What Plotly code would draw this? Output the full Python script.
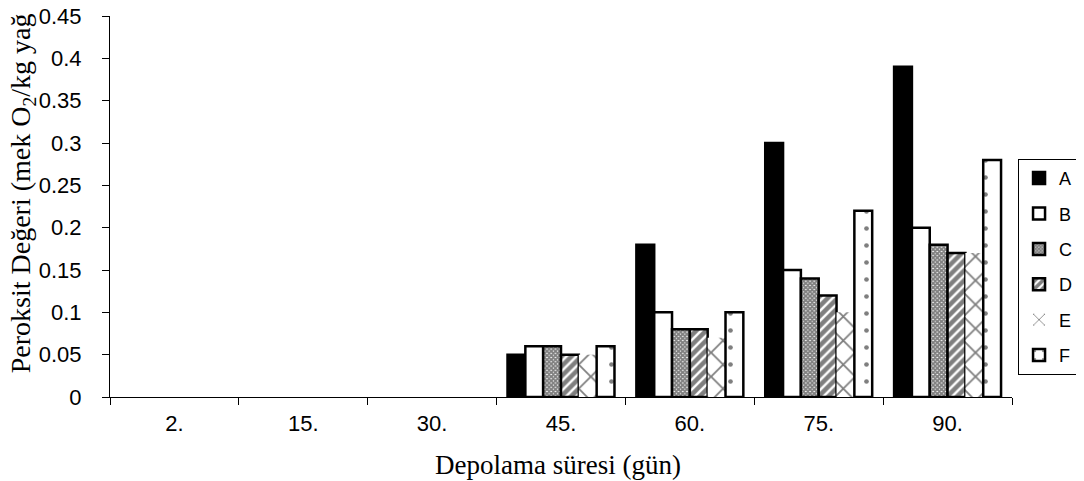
import plotly.graph_objects as go

categories = ["2.", "15.", "30.", "45.", "60.", "75.", "90."]
series_names = ["A", "B", "C", "D", "E", "F"]
A = [None, None, None, 0.05, 0.18, 0.30, 0.39]
B = [None, None, None, 0.06, 0.10, 0.15, 0.20]
C = [None, None, None, 0.06, 0.08, 0.14, 0.18]
D = [None, None, None, 0.05, 0.08, 0.12, 0.17]
E = [None, None, None, 0.05, 0.07, 0.10, 0.17]
F = [None, None, None, 0.06, 0.10, 0.22, 0.28]
values = [A, B, C, D, E, F]

styles = {
    "A": dict(color="black", pattern=dict(shape=""), line=dict(color="black", width=2.5)),
    "B": dict(color="white", pattern=dict(shape=""), line=dict(color="black", width=2.5)),
    "C": dict(color="white", pattern=dict(shape="x", fgcolor="black", bgcolor="#ffffff", size=3, solidity=0.85, fillmode="overlay"), line=dict(color="black", width=2.5)),
    "D": dict(color="white", pattern=dict(shape="/", fgcolor="black", bgcolor="#ffffff", size=7, solidity=0.65, fillmode="overlay"), line=dict(color="black", width=2.5)),
    "E": dict(color="white", pattern=dict(shape="x", fgcolor="black", bgcolor="#ffffff", size=17, solidity=0.2, fillmode="overlay"), line=dict(color="white", width=0)),
    "F": dict(color="white", pattern=dict(shape=".", fgcolor="black", bgcolor="#ffffff", size=17, solidity=0.06, fillmode="overlay"), line=dict(color="black", width=2.5)),
}

fig = go.Figure()
for name, vals in zip(series_names, values):
    fig.add_trace(go.Bar(x=categories, y=vals, name=name, legendgroup=name,
                         marker=styles[name]))

sans = "Arial, Liberation Sans, sans-serif"
serif = "Times New Roman, Liberation Serif, serif"

fig.update_layout(
    width=1076, height=473,
    margin=dict(l=102, r=72, t=8, b=84, autoexpand=False),
    paper_bgcolor="white", plot_bgcolor="white",
    barmode="group", bargap=0.17, bargroupgap=0,
    font=dict(family=sans, size=18, color="black"),
    showlegend=True,
    legend=dict(x=1.0067, y=0.625, xanchor="left", yanchor="top",
                bordercolor="black", borderwidth=1, bgcolor="white",
                font=dict(family=sans, size=18, color="black"),
                traceorder="grouped", tracegroupgap=9, itemwidth=30),
    xaxis=dict(type="category", showline=True, linecolor="black", linewidth=1,
               ticks="outside", tickson="boundaries", ticklen=7, tickcolor="black",
               ticklabelstandoff=7,
               showgrid=False, zeroline=False, tickfont=dict(family=sans, size=22)),
    yaxis=dict(range=[0, 0.4501], tick0=0, dtick=0.05, showline=True, linecolor="black", linewidth=1,
               ticks="outside", ticklen=7, tickcolor="black", showgrid=False, zeroline=False,
               ticklabelstandoff=16, ticklabeloverflow="allow",
               tickfont=dict(family=sans, size=22)),
    annotations=[
        dict(text="Peroksit Değeri (mek O<sub>2</sub>/kg yağ", textangle=-90,
             xref="paper", yref="paper", x=-0.0976, y=0.057, xanchor="center", yanchor="bottom",
             showarrow=False, font=dict(family=serif, size=28, color="black")),
        dict(text="Depolama süresi (gün)", xref="paper", yref="paper", x=0.497, y=-0.1785,
             xanchor="center", yanchor="middle", showarrow=False,
             font=dict(family=serif, size=27, color="black")),
    ],
)

fig.write_html("out.html")
